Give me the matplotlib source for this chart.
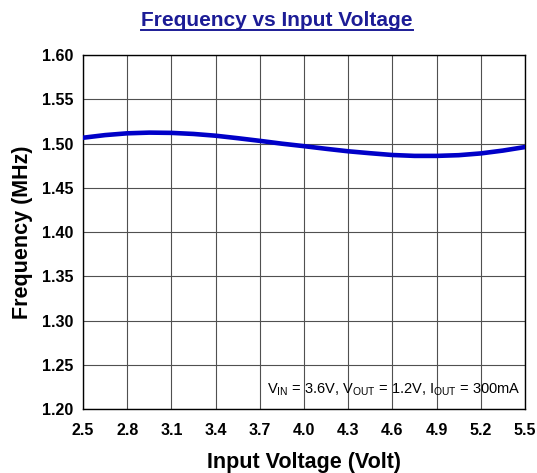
import matplotlib.pyplot as plt

plt.rcParams['font.family'] = ['Liberation Sans', 'DejaVu Sans']

# 读数 (estimated from the chart)
vin = [2.5, 2.65, 2.8, 2.95, 3.1, 3.25, 3.4, 3.55, 3.7, 3.85, 4.0, 4.15, 4.3,
       4.45, 4.6, 4.75, 4.9, 5.05, 5.2, 5.35, 5.5]
freq = [1.5065, 1.5095, 1.5115, 1.5123, 1.5120, 1.5108, 1.5088, 1.5060, 1.5030,
        1.4998, 1.4970, 1.4940, 1.4912, 1.4890, 1.4870, 1.4860, 1.4860, 1.4868,
        1.4888, 1.4920, 1.4960]
xticks = [2.5, 2.8, 3.1, 3.4, 3.7, 4.0, 4.3, 4.6, 4.9, 5.2, 5.5]
yticks = [1.20, 1.25, 1.30, 1.35, 1.40, 1.45, 1.50, 1.55, 1.60]

fig = plt.figure(figsize=(5.37, 4.73), dpi=100)
ax = fig.add_axes([83 / 537, 1 - 409 / 473, 442 / 537, 354 / 473])

ax.plot(vin, freq, color='#0000c8', linewidth=3.3, solid_capstyle='round', zorder=3)

ax.set_xlim(2.5, 5.5)
ax.set_ylim(1.20, 1.60)
ax.set_xticks(xticks)
ax.set_yticks(yticks)
ax.set_xticklabels(['%.1f' % v for v in xticks], fontsize=11.5, fontweight='bold')
ax.set_yticklabels(['%.2f' % v for v in yticks], fontsize=11.5, fontweight='bold')
ax.tick_params(axis='x', length=0, pad=10)
ax.tick_params(axis='y', length=0, pad=7)
ax.grid(True, color='#505050', linewidth=0.8)
for s in ax.spines.values():
    s.set_color('black')
    s.set_linewidth(1)

ax.set_xlabel('Input Voltage (Volt)', fontsize=15.5, fontweight='bold', labelpad=10)
ax.set_ylabel('Frequency (MHz)', fontsize=15.5, fontweight='bold', labelpad=6)

t = fig.text(277 / 537, 1 - 20 / 473, 'Frequency vs Input Voltage', ha='center', va='center',
             fontsize=15, fontweight='bold', color='#1c1c96')
fig.canvas.draw()
bb = t.get_window_extent()
fig.add_artist(plt.Line2D([bb.x0 / 537, bb.x1 / 537], [(bb.y0 - 1) / 473, (bb.y0 - 1) / 473],
                          color='#1c1c96', linewidth=1.4))

ax.text(0.99, 0.055,
        r'V$_{\mathregular{IN}}$ = 3.6V, V$_{\mathregular{OUT}}$ = 1.2V, I$_{\mathregular{OUT}}$ = 300mA',
        transform=ax.transAxes, ha='right', va='center', fontsize=10.5)

fig.savefig('out.png', dpi=100)
